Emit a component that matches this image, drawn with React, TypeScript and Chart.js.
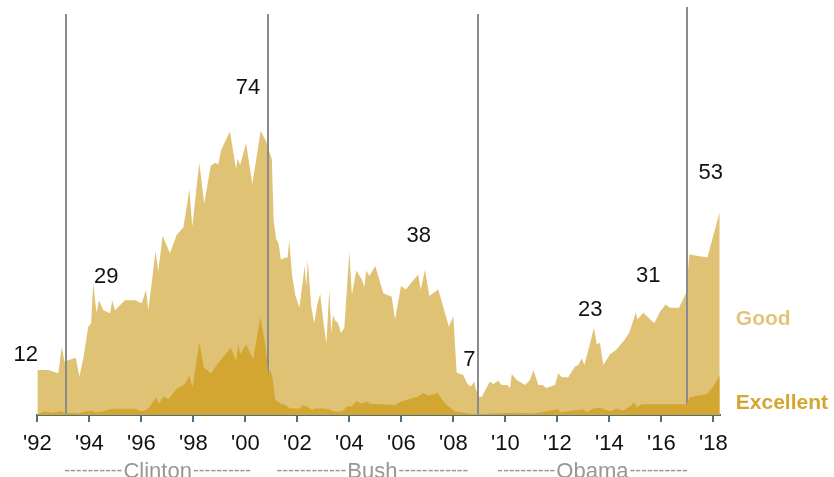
import React, { useEffect, useRef } from "react";
import { Chart, registerables } from "chart.js";

Chart.register(...registerables);

// ---------- data ----------
const tickYears = [1992, 1994, 1996, 1998, 2000, 2002, 2004, 2006, 2008, 2010, 2012, 2014, 2016, 2018];
const tickLabels = ["'92", "'94", "'96", "'98", "'00", "'02", "'04", "'06", "'08", "'10", "'12", "'14", "'16", "'18"];

// Share rating the economy good or excellent (total of both)
const goodOrBetterYears = [
  1992.0, 1992.42, 1992.81, 1992.94, 1993.04, 1993.48, 1993.62, 1993.77, 1993.96, 1994.07,
  1994.15, 1994.28, 1994.37, 1994.54, 1994.8, 1994.88, 1994.99, 1995.37, 1995.76, 1996.02,
  1996.18, 1996.27, 1996.55, 1996.65, 1996.82, 1997.1, 1997.36, 1997.62, 1997.85, 1997.96,
  1998.23, 1998.42, 1998.67, 1998.83, 1998.96, 1999.07, 1999.41, 1999.64, 1999.71, 1999.8,
  2000.03, 2000.27, 2000.59, 2000.8, 2001.02, 2001.09, 2001.19, 2001.28, 2001.37, 2001.48,
  2001.63, 2001.69, 2001.8, 2001.92, 2002.08, 2002.21, 2002.28, 2002.35, 2002.4, 2002.54,
  2002.65, 2002.76, 2002.88, 2003.02, 2003.12, 2003.23, 2003.31, 2003.37, 2003.46, 2003.57,
  2003.68, 2003.81, 2004.0, 2004.1, 2004.27, 2004.49, 2004.58, 2004.65, 2004.77, 2005.0,
  2005.31, 2005.63, 2005.76, 2005.99, 2006.17, 2006.65, 2006.75, 2006.91, 2007.08, 2007.42,
  2007.83, 2008.0, 2008.13, 2008.38, 2008.55, 2008.68, 2008.8, 2008.87, 2008.96, 2009.09,
  2009.41, 2009.54, 2009.73, 2009.86, 2010.08, 2010.18, 2010.25, 2010.44, 2010.76, 2010.95,
  2011.08, 2011.27, 2011.44, 2011.57, 2011.91, 2012.04, 2012.17, 2012.42, 2012.68, 2012.81,
  2012.94, 2013.04, 2013.26, 2013.41, 2013.52, 2013.64, 2013.77, 2014.03, 2014.26, 2014.58,
  2014.77, 2015.02, 2015.08, 2015.31, 2015.73, 2015.95, 2016.17, 2016.33, 2016.68, 2016.95,
  2017.08, 2017.77, 2018.25,
];
const goodOrBetterValues = [
  11.7, 11.7, 10.9, 17.8, 13.9, 14.9, 10.0, 14.8, 23.0, 23.9,
  34.3, 26.5, 29.9, 27.3, 26.5, 29.8, 27.3, 29.9, 29.9, 29.1,
  32.6, 27.3, 42.7, 37.3, 46.7, 42.1, 46.9, 48.9, 58.8, 49.0,
  65.7, 55.1, 64.9, 65.7, 65.3, 69.0, 73.8, 64.2, 66.8, 65.1,
  70.8, 60.1, 74.0, 71.2, 66.6, 50.8, 45.8, 44.7, 40.4, 40.8,
  41.1, 45.6, 36.3, 31.3, 28.0, 34.7, 38.8, 33.4, 40.5, 28.0,
  23.9, 28.6, 31.5, 23.4, 18.7, 32.6, 21.3, 26.0, 24.6, 23.9,
  21.3, 22.8, 42.5, 31.3, 37.6, 35.2, 33.3, 37.6, 36.2, 38.8,
  31.7, 30.8, 24.9, 33.6, 32.7, 36.6, 32.6, 37.8, 31.0, 32.7,
  23.0, 25.8, 11.0, 10.4, 8.1, 7.4, 8.7, 6.7, 4.8, 4.7,
  8.7, 8.1, 8.9, 7.8, 7.8, 7.0, 10.7, 9.1, 7.8, 9.1,
  11.7, 7.8, 7.8, 7.0, 7.8, 10.9, 9.8, 9.8, 12.6, 13.0,
  14.8, 13.0, 18.7, 22.7, 18.4, 18.8, 13.0, 15.8, 16.9, 19.5,
  21.5, 26.7, 24.9, 26.6, 23.9, 26.9, 28.8, 27.9, 27.9, 31.7,
  41.8, 41.0, 52.9,
];

// Share rating the economy excellent
const excellentYears = [
  1992.0, 1992.3, 1992.55, 1992.94, 1993.07, 1993.32, 1993.58, 1993.83, 1994.09, 1994.22,
  1994.48, 1994.86, 1995.76, 1996.02, 1996.27, 1996.46, 1996.59, 1996.68, 1996.85, 1997.04,
  1997.36, 1997.68, 1997.85, 1997.97, 1998.23, 1998.41, 1998.68, 1998.9, 1999.44, 1999.65,
  1999.72, 1999.81, 2000.03, 2000.3, 2000.58, 2000.78, 2000.88, 2000.96, 2001.05, 2001.15,
  2001.26, 2001.35, 2001.54, 2001.73, 2002.12, 2002.18, 2002.37, 2002.57, 2002.69, 2002.95,
  2003.21, 2003.4, 2003.72, 2003.91, 2004.1, 2004.27, 2004.49, 2004.68, 2004.81, 2005.76,
  2006.02, 2006.4, 2006.65, 2006.85, 2007.04, 2007.4, 2007.68, 2008.07, 2008.58, 2008.96,
  2009.48, 2010.31, 2011.08, 2012.04, 2012.1, 2013.0, 2013.13, 2013.38, 2013.64, 2013.9,
  2014.03, 2014.28, 2014.54, 2014.8, 2014.96, 2015.05, 2015.25, 2016.97, 2017.1, 2017.75,
  2018.0, 2018.25,
];
const excellentValues = [
  0.2, 0.9, 0.6, 1.0, 0.4, 0.6, 0.4, 0.9, 1.1, 0.7,
  0.9, 1.6, 1.6, 0.9, 1.7, 3.5, 4.6, 2.9, 4.8, 4.1,
  6.8, 8.1, 10.3, 7.0, 19.0, 12.4, 10.8, 13.0, 17.5, 14.1,
  18.4, 15.9, 18.4, 14.5, 25.5, 17.8, 10.9, 11.7, 9.6, 3.9,
  3.6, 2.9, 2.6, 1.7, 1.7, 2.6, 2.2, 1.3, 1.7, 1.7,
  1.5, 0.9, 0.9, 2.2, 2.3, 3.6, 3.0, 3.6, 2.9, 2.6,
  3.6, 4.3, 4.8, 5.7, 5.0, 5.7, 3.0, 0.9, 0.4, 0.2,
  0.4, 0.6, 0.4, 1.5, 0.7, 1.5, 0.8, 1.7, 1.9, 1.3,
  1.0, 1.7, 1.1, 2.3, 3.3, 2.0, 2.8, 2.8, 4.6, 5.5,
  7.4, 10.4,
];

// Inaugurations (vertical rules)
const inaugurationYears = [1993.09, 2000.86, 2008.94, 2016.98];

// Presidential term labels
const presidentNames = ["Clinton", "Bush", "Obama"];
const presidentLabelYears = [1996.63, 2004.89, 2013.35];
const presidentDashCounts = [10, 12, 10];

// Callout numbers
const calloutValues = [12, 29, 74, 38, 7, 23, 31, 53];
const calloutYears = [1991.56, 1994.65, 2000.1, 2006.67, 2008.62, 2013.27, 2015.5, 2017.9];

const seriesNames = ["Good", "Excellent"];

// ---------- styles ----------
const FONT = "'Liberation Sans', Arial, Helvetica, sans-serif";
const GOOD_COLOR = "#dfc273";
const EXC_COLOR = "#d2a631";
const GOOD_TEXT = "#e2c47c";
const AXIS_COLOR = "#4f6f86";
const RULE_COLOR = "#8b8b8b";
const PRES_COLOR = "#979797";
const calloutOffsets = [-14, -27, -43, -33, -28, -17, -20, -39];
const ruleTops = [14, 14, 14, 7];

export default function App() {
  const ref = useRef<HTMLCanvasElement>(null);

  useEffect(() => {
    const canvas = ref.current;
    if (!canvas) return;

    const overlay = {
      id: "overlay",
      afterDatasetDraw(chart: any, args: any) {
        if (args.index !== 1) return;
        const { ctx, chartArea } = chart;
        const xs = chart.scales.x;
        ctx.save();
        ctx.strokeStyle = RULE_COLOR;
        ctx.lineWidth = 2;
        inaugurationYears.forEach((yr, i) => {
          const px = Math.round(xs.getPixelForValue(yr));
          ctx.beginPath();
          ctx.moveTo(px, ruleTops[i]);
          ctx.lineTo(px, chartArea.bottom);
          ctx.stroke();
        });
        ctx.restore();
      },
      afterDraw(chart: any) {
        const { ctx, chartArea } = chart;
        const xs = chart.scales.x;
        const ys = chart.scales.y;
        ctx.save();
        // callouts
        ctx.fillStyle = "#111";
        ctx.font = `22px ${FONT}`;
        ctx.textAlign = "center";
        ctx.textBaseline = "middle";
        calloutValues.forEach((v, i) => {
          ctx.fillText(
            String(v),
            xs.getPixelForValue(calloutYears[i]),
            ys.getPixelForValue(v) + calloutOffsets[i]
          );
        });
        // series labels
        ctx.textAlign = "left";
        ctx.textBaseline = "alphabetic";
        ctx.font = `bold 21px ${FONT}`;
        ctx.fillStyle = GOOD_TEXT;
        ctx.fillText(seriesNames[0], chartArea.right + 16, 325);
        ctx.fillStyle = EXC_COLOR;
        ctx.fillText(seriesNames[1], chartArea.right + 16, 408.5);
        // president labels
        ctx.fillStyle = PRES_COLOR;
        presidentNames.forEach((name, i) => {
          const cx = xs.getPixelForValue(presidentLabelYears[i]);
          ctx.font = `22px ${FONT}`;
          const wN = ctx.measureText(name).width;
          ctx.textAlign = "center";
          ctx.fillText(name, cx, chartArea.bottom + 63);
          ctx.font = `17.5px ${FONT}`;
          const dashes = "-".repeat(presidentDashCounts[i]);
          ctx.textAlign = "right";
          ctx.fillText(dashes, cx - wN / 2 - 1, chartArea.bottom + 61);
          ctx.textAlign = "left";
          ctx.fillText(dashes, cx + wN / 2 + 1, chartArea.bottom + 61);
        });
        ctx.restore();
      },
    };

    const chart = new Chart(canvas, {
      type: "line",
      data: {
        datasets: [
          {
            label: seriesNames[1],
            data: excellentYears.map((x, i) => ({ x, y: excellentValues[i] })),
            fill: "origin",
            backgroundColor: EXC_COLOR,
            borderColor: "rgba(0,0,0,0)",
            borderWidth: 0,
            pointRadius: 0,
            tension: 0,
          },
          {
            label: seriesNames[0],
            data: goodOrBetterYears.map((x, i) => ({ x, y: goodOrBetterValues[i] })),
            fill: "origin",
            backgroundColor: GOOD_COLOR,
            borderColor: "rgba(0,0,0,0)",
            borderWidth: 0,
            pointRadius: 0,
            tension: 0,
          },
        ],
      },
      options: {
        responsive: false,
        animation: false,
        devicePixelRatio: 1,
        layout: { padding: { left: 37.3, right: 114.2, top: 31, bottom: 22 } },
        plugins: { legend: { display: false }, tooltip: { enabled: false } },
        scales: {
          x: {
            type: "linear",
            min: 1992,
            max: 2018.25,
            afterBuildTicks: (s: any) => {
              s.ticks = tickYears.map((v) => ({ value: v }));
            },
            afterFit: (s: any) => {
              s.height = 40;
            },
            ticks: {
              autoSkip: false,
              maxRotation: 0,
              padding: 9,
              color: "#111",
              font: { family: FONT, size: 22 },
              callback: (v: any) => {
                const i = tickYears.indexOf(Number(v));
                return i >= 0 ? tickLabels[i] : "";
              },
            },
            grid: {
              display: true,
              drawOnChartArea: false,
              drawTicks: true,
              tickLength: 7,
              color: AXIS_COLOR,
              lineWidth: 2,
            },
            border: { display: true, color: AXIS_COLOR, width: 2 },
          },
          y: { display: false, min: 0, max: 100 },
        },
      },
      plugins: [overlay],
    } as any);

    return () => chart.destroy();
  }, []);

  return (
    <div style={{ position: "absolute", left: 0, top: 0, width: 834, height: 477, background: "#fff" }}>
      <canvas ref={ref} width={834} height={477} style={{ display: "block" }} />
    </div>
  );
}
